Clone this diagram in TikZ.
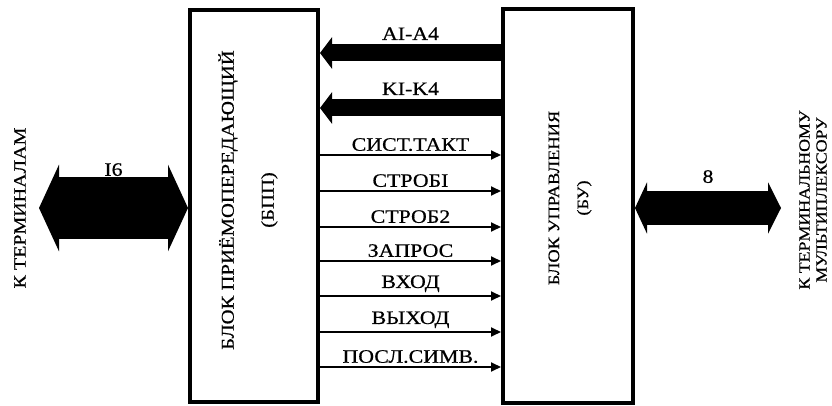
\documentclass[tikz,border=0pt]{standalone}
\usepackage{fontspec}
\newfontfamily\tw[FakeStretch=1.15,FakeBold=0.6]{Liberation Serif}
\usetikzlibrary{arrows.meta,positioning}

\tikzset{
  blok/.style={draw, line width=4pt, minimum width=128pt, minimum height=392pt, inner sep=0pt},
  nadpis/.style={font=\tw\fontsize{19}{22}\selectfont, inner sep=1pt, outer sep=0pt},
  shina/.style={line width=17pt, -{Triangle[length=12pt,width=31pt]}},
  signal/.style={line width=1.8pt, -{Triangle[length=10pt,width=9pt]}},
}

\begin{document}
\begin{tikzpicture}[x=1pt,y=-1pt]
  \useasboundingbox (0,0) rectangle (832,406);

  % Блоки
  \node[blok] (bpp) at (254,206) {};
  \node[blok, minimum width=130pt, minimum height=394pt] (bu) at (568,206) {};
  \node[nadpis, rotate=90, align=center, font=\tw\fontsize{18}{20}\selectfont] (bpptxt) at (248,200)
    {БЛОК ПРИЁМОПЕРЕДАЮЩИЙ\\[20pt](БПП)};
  \node[nadpis, rotate=90, align=center, font=\tw\fontsize{16}{20}\selectfont] (butxt) at (570,198)
    {БЛОК УПРАВЛЕНИЯ\\[9pt](БУ)};

  % Внешние связи
  \coordinate (term) at (39,208);
  \coordinate (mux) at (781,208);
  \node[nadpis, rotate=90, font=\tw\fontsize{17.4}{20}\selectfont] (termtxt) at (20,208) {К ТЕРМИНАЛАМ};
  \node[nadpis, rotate=90, align=center, font=\tw\fontsize{15.5}{17}\selectfont] (muxtxt) at (813,200)
    {К ТЕРМИНАЛЬНОМУ\\МУЛЬТИПЛЕКСОРУ};

  \draw[line width=62pt, {Triangle[length=20pt,width=86pt]}-{Triangle[length=20pt,width=86pt]}]
    (term) -- (term -| bpp.west) node[midway, above=31pt, nadpis] {I6};
  \draw[line width=34pt, {Triangle[length=12pt,width=51pt]}-{Triangle[length=13pt,width=51pt]}]
    (mux -| bu.east) -- (mux) node[midway, above=24pt, nadpis] {8};

  % Шины
  \draw[shina] (bu.west |- 0,53) -- (bpp.east |- 0,53) node[midway, above=12pt, nadpis] {AI-A4};
  \draw[shina] (bu.west |- 0,108) -- (bpp.east |- 0,108) node[midway, above=12pt, nadpis] {KI-K4};

  % Сигналы
  \foreach \y/\txt [count=\i] in {155/СИСТ.ТАКТ, 191/СТРОБI, 227/СТРОБ2, 261/ЗАПРОС,
                                  296/ВХОД, 332/ВЫХОД, 367/ПОСЛ.СИМВ.}
    \draw[signal] (bpp.east |- 0,\y) -- (bu.west |- 0,\y)
      node[midway, above=3pt, nadpis] (s\i) {\txt};

\end{tikzpicture}
\end{document}
